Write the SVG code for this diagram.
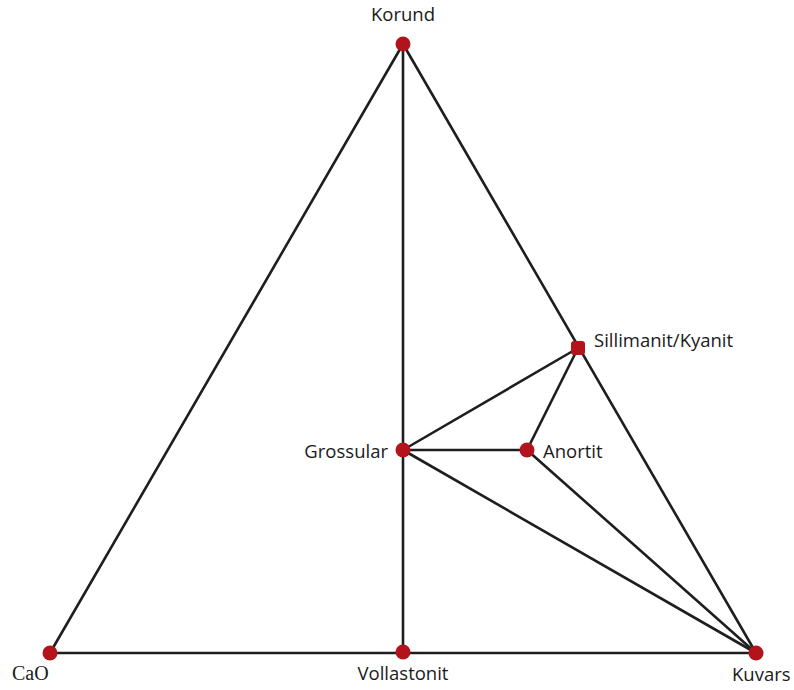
<svg xmlns="http://www.w3.org/2000/svg" width="794" height="690" viewBox="0 0 794 690">
<style>
.e{stroke:#1e1e1e;stroke-width:2.6;fill:none;stroke-linecap:round}
.d{fill:#b3141c}
.t{font-family:"Open Sans","Liberation Sans",sans-serif;font-size:18.5px;fill:#1a1a1a}
.s{font-family:"Liberation Serif",serif;font-size:20px;fill:#1a1a1a}
</style>
<rect width="794" height="690" fill="#fff"/>
<g id="edges">
<line class="e" x1="403" y1="44" x2="50" y2="653"/>
<line class="e" x1="403" y1="44" x2="756" y2="653"/>
<line class="e" x1="403" y1="44" x2="403" y2="652"/>
<line class="e" x1="50" y1="653" x2="756" y2="653"/>
<line class="e" x1="403" y1="450" x2="578" y2="348"/>
<line class="e" x1="403" y1="450" x2="527" y2="450"/>
<line class="e" x1="403" y1="450" x2="756" y2="653"/>
<line class="e" x1="527" y1="450" x2="578" y2="348"/>
<line class="e" x1="527" y1="450" x2="756" y2="653"/>
</g>
<g id="korund"><circle class="d" cx="403" cy="44" r="7.5"/><text class="t" x="403" y="21" text-anchor="middle">Korund</text></g>
<g id="cao"><circle class="d" cx="50" cy="653" r="7.5"/><text class="s" x="12" y="680">CaO</text></g>
<g id="vollastonit"><circle class="d" cx="403" cy="652" r="7.5"/><text class="t" x="403" y="680" text-anchor="middle">Vollastonit</text></g>
<g id="kuvars"><circle class="d" cx="756" cy="653" r="7.5"/><text class="t" x="732" y="681">Kuvars</text></g>
<g id="sillimanit"><rect class="d" x="571" y="341" width="14" height="14" rx="3"/><text class="t" x="594" y="347">Sillimanit/Kyanit</text></g>
<g id="grossular"><circle class="d" cx="403" cy="450" r="7.5"/><text class="t" x="388" y="458" text-anchor="end">Grossular</text></g>
<g id="anortit"><circle class="d" cx="527" cy="450" r="7.5"/><text class="t" x="543" y="458">Anortit</text></g>
</svg>
